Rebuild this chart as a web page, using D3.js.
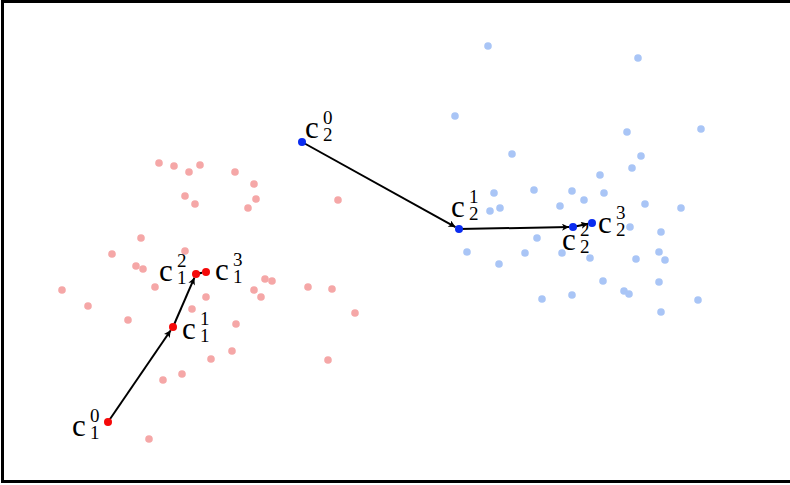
<!DOCTYPE html>
<html>
<head>
<meta charset="utf-8">
<script src="https://cdn.jsdelivr.net/npm/d3@7"></script>
<style>
  html, body { margin: 0; padding: 0; background: #fff; overflow: hidden; }
  svg { display: block; }
  .lbl { font-family: "Liberation Serif", "Times New Roman", Times, serif; fill: #000; }
</style>
</head>
<body>
<svg id="chart" width="790" height="485"></svg>
<script>
// Cluster 1 samples (x, y)
const cluster1 = [
  [15.9,32.2],[17.4,31.9],[18.9,31.3],[20.0,32.0],[23.5,31.3],[25.4,30.1],
  [18.5,28.9],[19.5,28.1],[25.6,28.6],[24.8,27.7],[33.8,28.5],[14.1,24.7],
  [18.5,23.4],[11.2,23.1],[13.6,21.9],[14.3,21.6],[15.5,19.8],[6.2,19.5],
  [20.6,18.8],[26.5,20.6],[27.2,20.4],[25.4,19.5],[26.1,18.8],[30.8,19.8],
  [33.2,19.6],[8.8,17.9],[19.2,17.6],[12.8,16.5],[35.5,17.2],[23.6,16.1],
  [23.2,13.4],[21.1,12.6],[32.8,12.5],[18.2,11.1],[16.3,10.5],[14.9,4.6]
];

// Cluster 2 samples (x, y)
const cluster2 = [
  [48.8,43.9],[63.8,42.7],[45.5,36.9],[70.1,35.6],[62.7,35.3],[51.2,33.1],
  [64.1,32.9],[63.2,31.7],[60.0,31.0],[53.4,29.5],[57.2,29.4],[49.4,29.2],
  [60.4,29.2],[58.4,28.5],[64.5,28.1],[56.0,27.9],[68.1,27.7],[49.0,27.4],
  [50.0,27.7],[63.0,25.8],[66.1,25.3],[53.7,24.7],[46.7,23.3],[52.5,23.2],
  [56.2,23.2],[65.9,23.3],[59.0,22.7],[66.5,22.5],[63.6,22.6],[49.9,22.1],
  [60.3,20.4],[65.9,20.3],[62.4,19.4],[62.9,19.1],[54.2,18.6],[57.2,19.0],
  [69.8,18.5],[66.1,17.3]
];

// Centroid positions after iterations 0..3
const centroids1 = [[10.8,6.3],[17.3,15.8],[19.6,21.1],[20.6,21.3]];
const centroids2 = [[30.2,34.3],[45.9,25.6],[57.3,25.8],[59.2,26.2]];

// Iteration numbers shown as superscripts
const iterations = ["0", "1", "2", "3"];

// Label placement for each centroid: offset of the "c" glyph from the dot
const labelOffsets1 = [[-36, 14], [9, 12], [-37, 7], [9, 8]];
const labelOffsets2 = [[3, -4], [-8, -12], [-11, 23], [6, 10]];

const W = 790, H = 485;
const svg = d3.select("#chart");

const x = d3.scaleLinear().domain([0, 79]).range([0, W]);
const y = d3.scaleLinear().domain([0, 48.5]).range([H, 0]);

// frame (open on the right side)
svg.append("rect")
  .attr("x", 2.5).attr("y", 1.5)
  .attr("width", 840).attr("height", 480)
  .attr("fill", "none").attr("stroke", "#000").attr("stroke-width", 3);

// arrowhead
svg.append("defs").append("marker")
  .attr("id", "arrow")
  .attr("viewBox", "0 0 10 10")
  .attr("refX", 10).attr("refY", 5)
  .attr("markerWidth", 9).attr("markerHeight", 7)
  .attr("markerUnits", "userSpaceOnUse")
  .attr("orient", "auto")
  .append("path")
  .attr("d", "M0,0 L10,5 L0,10 L2.5,5 Z")
  .attr("fill", "#000");

// sample points
svg.append("g").selectAll("circle").data(cluster1).join("circle")
  .attr("cx", d => x(d[0])).attr("cy", d => y(d[1])).attr("r", 3.8)
  .attr("fill", "#f5a7a7");

svg.append("g").selectAll("circle").data(cluster2).join("circle")
  .attr("cx", d => x(d[0])).attr("cy", d => y(d[1])).attr("r", 3.8)
  .attr("fill", "#a9c5f6");

const dotR = 4;

function drawTrack(pts, color) {
  const g = svg.append("g");
  const segs = d3.pairs(pts);
  g.selectAll("line").data(segs).join("line")
    .each(function([a, b]) {
      const x1 = x(a[0]), y1 = y(a[1]), x2 = x(b[0]), y2 = y(b[1]);
      const len = Math.hypot(x2 - x1, y2 - y1);
      const ux = (x2 - x1) / len, uy = (y2 - y1) / len;
      d3.select(this)
        .attr("x1", x1).attr("y1", y1)
        .attr("x2", x2 - ux * dotR).attr("y2", y2 - uy * dotR);
    })
    .attr("stroke", "#000").attr("stroke-width", 2)
    .attr("marker-end", "url(#arrow)");
  g.selectAll("circle").data(pts).join("circle")
    .attr("cx", d => x(d[0])).attr("cy", d => y(d[1])).attr("r", dotR)
    .attr("fill", color);
}

drawTrack(centroids1, "#f50a0a");
drawTrack(centroids2, "#0a2cf0");

// "c" with stacked superscript (iteration) and subscript (cluster index)
function drawLabels(pts, offsets, clusterIdx) {
  const g = svg.append("g");
  pts.forEach((p, i) => {
    const bx = x(p[0]) + offsets[i][0];
    const by = y(p[1]) + offsets[i][1];
    const t = g.append("text").attr("class", "lbl")
      .attr("x", bx).attr("y", by).attr("font-size", 31);
    t.append("tspan").text("c");
    t.append("tspan").attr("x", bx + 18).attr("y", by - 14)
      .attr("font-size", 19).text(iterations[i]);
    t.append("tspan").attr("x", bx + 18).attr("y", by + 3)
      .attr("font-size", 19).text(String(clusterIdx));
  });
}

drawLabels(centroids1, labelOffsets1, 1);
drawLabels(centroids2, labelOffsets2, 2);
</script>
</body>
</html>
